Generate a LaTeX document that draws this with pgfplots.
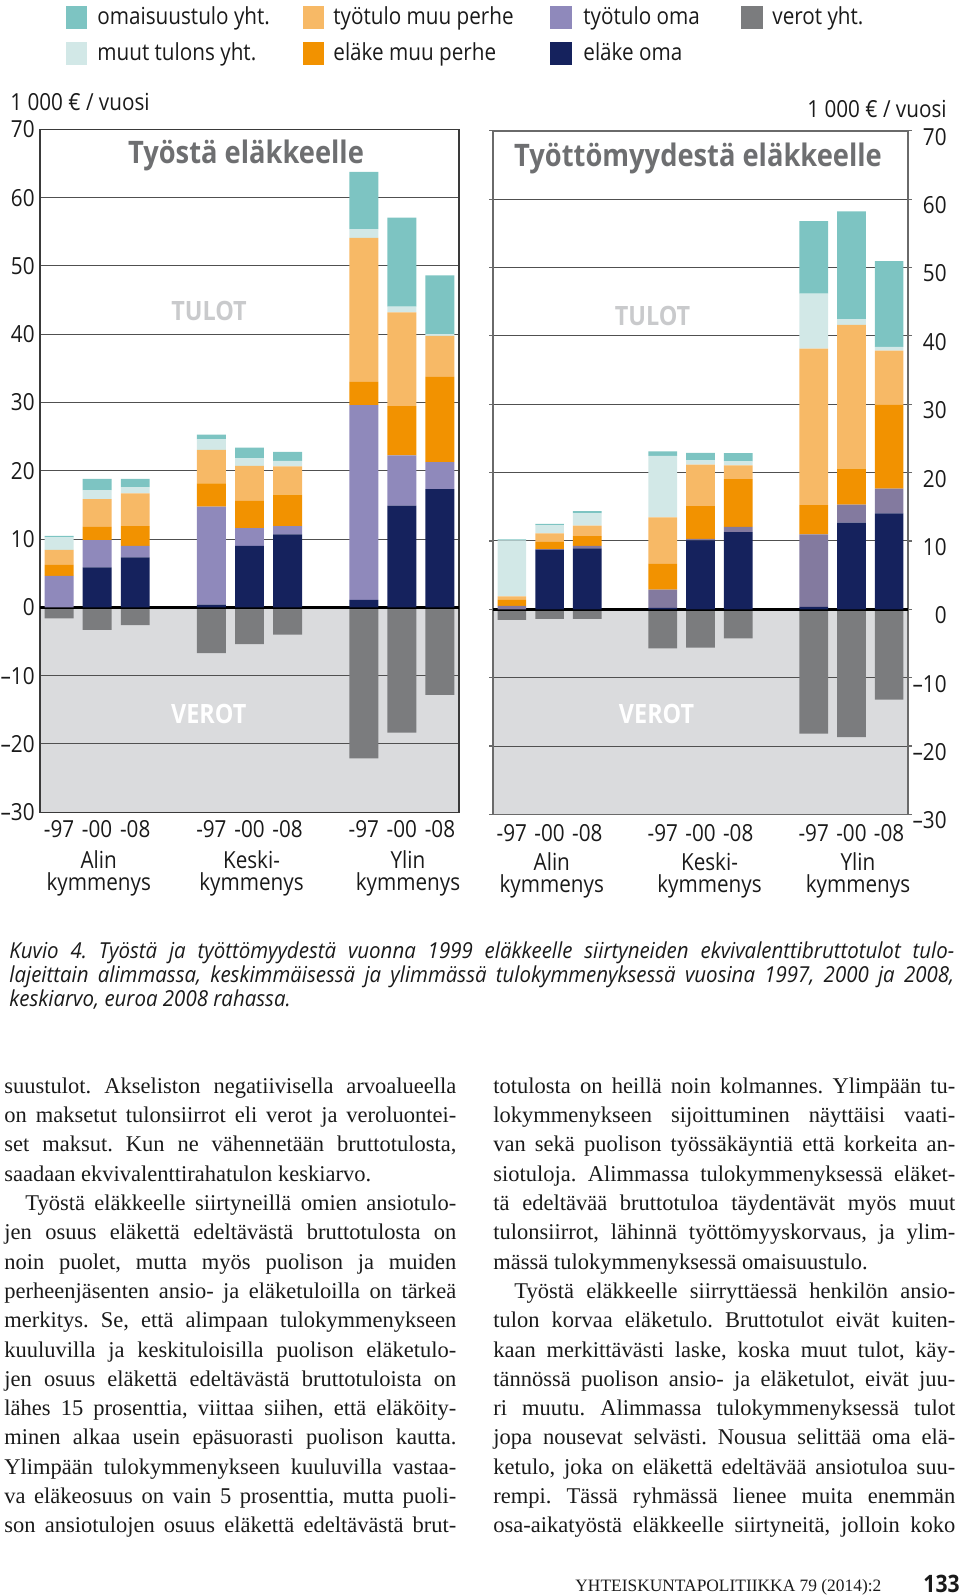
\documentclass[border=0pt]{standalone}
\usepackage{pgfplots}
\pgfplotsset{compat=1.18}
\usepackage{pgfplotstable}
\usepackage{fontspec}
\setmainfont{Liberation Serif}
\newfontfamily\ff[FakeStretch=0.88]{Open Sans}
\newfontfamily\capf[FakeStretch=0.93]{Open Sans}
\frenchspacing

\definecolor{cTeal}{HTML}{7DC4C2}
\definecolor{cLCyan}{HTML}{D2E8E7}
\definecolor{cLOr}{HTML}{F7B966}
\definecolor{cOr}{HTML}{F29200}
\definecolor{cPurL}{HTML}{8F89BB}
\definecolor{cPurR}{HTML}{837A9F}
\definecolor{cNavy}{HTML}{15225D}
\definecolor{cVer}{HTML}{7B7C7E}
\definecolor{cNeg}{HTML}{DADBDD}
\definecolor{cGrid}{HTML}{505050}
\definecolor{cFrameL}{HTML}{3A3A3A}
\definecolor{cFrameR}{HTML}{6A6A6A}
\definecolor{cTitle}{HTML}{6E6F71}
\definecolor{cTulot}{HTML}{C9CACC}
\definecolor{cText}{HTML}{1A1A1A}

% x: position, en: elake oma, to: tyotulo oma, em: elake muu perhe,
% tm: tyotulo muu perhe, mu: muut tulonsiirrot, om: omaisuustulo, ve: verot
\pgfplotstableread{
x  en    to     em    tm    mu    om    ve
0  0.0   4.6    1.6   2.2   1.85  0.2   -1.6
1  5.85  4.0    1.95  4.05  1.3   1.65  -3.3
2  7.3   1.7    2.9   4.8   0.9   1.2   -2.6
4  0.4   14.35  3.4   4.9   1.55  0.7   -6.7
5  9.0   2.6    4.0   5.1   1.1   1.6   -5.4
6  10.7  1.2    4.6   4.15  0.8   1.3   -4.0
8  1.1   28.5   3.4   21.1  1.3   8.35  -22.1
9  14.9  7.35   7.2   13.75 0.85  13.0  -18.35
10 17.3  3.95   12.5  6.0   0.25  8.6   -12.8
}\tabL

\pgfplotstableread{
x  en    to     em    tm    mu    om    ve
0  0.0   0.5    0.9   0.5   8.2   0.15  -1.55
1  8.7   0.1    1.05  1.25  1.2   0.2   -1.4
2  8.9   0.4    1.4   1.55  1.8   0.3   -1.4
4  0.2   2.7    3.75  6.8   9.0   0.65  -5.7
5  10.1  0.2    4.8   6.05  0.65  1.1   -5.6
6  11.3  0.75   7.0   2.0   0.6   1.2   -4.25
8  0.35  10.6   4.3   22.9  8.05  10.6  -18.2
9  12.7  2.6    5.3   21.0  0.85  15.75 -18.7
10 14.05 3.6    12.25 7.95  0.55  12.55 -13.2
}\tabR

\pgfplotsset{
  panel/.style={anchor=south west, scale only axis,
    xmin=-0.5, xmax=10.5, ymin=-30, ymax=70},
}
\tikzset{lbl/.style={font=\ff\fontsize{11.75}{12}\selectfont, text=cText}}
\newcommand\bodyf{\fontsize{11.25}{12}\selectfont}
\newcommand\JL[4]{\node[anchor=base west,inner sep=0pt,font=\bodyf,text=cText] at (#1,#2) {\makebox[#3][s]{#4}};}
\newcommand\RL[3]{\node[anchor=base west,inner sep=0pt,font=\bodyf,text=cText] at (#1,#2) {#3};}
\newcommand\mn{\textendash}

\begin{document}
\begin{tikzpicture}

% ---------- LEFT PANEL: negative background ----------
\begin{axis}[panel, at={(20pt,-406.1pt)}, width=209.5pt, height=341.45pt, hide axis]
\addplot[fill=cNeg, draw=none] coordinates {(-0.5,-30) (10.5,-30) (10.5,0) (-0.5,0)} -- cycle;
\end{axis}
% ---------- LEFT PANEL: grid, frame, ticks, taxes ----------
\begin{axis}[panel, at={(20pt,-406.1pt)}, width=209.5pt, height=341.45pt,
  axis line style={draw=cFrameL, line width=0.7pt},
  ymajorgrids, grid style={draw=cGrid, line width=0.5pt},
  ytick={-30,-20,...,70},
  yticklabels={\mn30,\mn20,\mn10,0,10,20,30,40,50,60,70},
  xtick={0,1,2,4,5,6,8,9,10},
  xticklabels={-97,-00,-08,-97,-00,-08,-97,-00,-08},
  major tick length=0pt,
  tick label style={lbl},
  yticklabel style={inner sep=0pt, xshift=-2.5pt},
  xticklabel style={inner sep=0pt, yshift=-4pt},
  ybar, bar width=0.76]
\addplot[fill=cVer, draw=none] table[x=x,y=ve]{\tabL};
\end{axis}
% ---------- LEFT PANEL: stacked incomes ----------
\begin{axis}[panel, at={(20pt,-406.1pt)}, width=209.5pt, height=341.45pt,
  hide axis, ybar stacked, bar width=0.76]
\addplot[fill=cNavy, draw=none] table[x=x,y=en]{\tabL};
\addplot[fill=cPurL, draw=none] table[x=x,y=to]{\tabL};
\addplot[fill=cOr, draw=none] table[x=x,y=em]{\tabL};
\addplot[fill=cLOr, draw=none] table[x=x,y=tm]{\tabL};
\addplot[fill=cLCyan, draw=none] table[x=x,y=mu]{\tabL};
\addplot[fill=cTeal, draw=none] table[x=x,y=om]{\tabL};
\draw[black, line width=1.4pt] (axis cs:-0.5,0) -- (axis cs:10.5,0);
\end{axis}

% ---------- RIGHT PANEL: negative background ----------
\begin{axis}[panel, at={(246.5pt,-407.2pt)}, width=207.5pt, height=341.8pt, hide axis]
\addplot[fill=cNeg, draw=none] coordinates {(-0.5,-30) (10.5,-30) (10.5,0) (-0.5,0)} -- cycle;
\end{axis}
% ---------- RIGHT PANEL: grid, frame, ticks, taxes ----------
\begin{axis}[panel, at={(246.5pt,-407.2pt)}, width=207.5pt, height=341.8pt,
  axis line style={draw=cFrameR, line width=0.7pt},
  ymajorgrids, grid style={draw=cGrid, line width=0.5pt},
  ytick={-30,-20,...,70},
  yticklabels={\mn30,\mn20,\mn10,0,10,20,30,40,50,60,70},
  yticklabel pos=right,
  xtick={0,1,2,4,5,6,8,9,10},
  xticklabels={-97,-00,-08,-97,-00,-08,-97,-00,-08},
  tick align=outside, major tick length=2pt,
  ytick style={draw=cFrameR, line width=0.6pt},
  xtick style={draw=none},
  tick label style={lbl},
  yticklabel style={anchor=east, inner sep=0pt, xshift=17.5pt, yshift=-3pt},
  xticklabel style={inner sep=0pt, yshift=-3pt},
  ybar, bar width=0.76]
\addplot[fill=cVer, draw=none] table[x=x,y=ve]{\tabR};
\end{axis}
% ---------- RIGHT PANEL: stacked incomes ----------
\begin{axis}[panel, at={(246.5pt,-407.2pt)}, width=207.5pt, height=341.8pt,
  hide axis, ybar stacked, bar width=0.76]
\addplot[fill=cNavy, draw=none] table[x=x,y=en]{\tabR};
\addplot[fill=cPurR, draw=none] table[x=x,y=to]{\tabR};
\addplot[fill=cOr, draw=none] table[x=x,y=em]{\tabR};
\addplot[fill=cLOr, draw=none] table[x=x,y=tm]{\tabR};
\addplot[fill=cLCyan, draw=none] table[x=x,y=mu]{\tabR};
\addplot[fill=cTeal, draw=none] table[x=x,y=om]{\tabR};
\draw[black, line width=1.4pt] (axis cs:-0.5,0) -- (axis cs:10.5,0);
\end{axis}

\begin{scope}[x=0.5pt,y=-0.5pt]
% legend
\tikzset{lg/.style={anchor=base west, inner sep=0pt, font=\ff\fontsize{11.75}{12}\selectfont, text=cText}}
\fill[cTeal]  (66,6) rectangle (87,28.5);   \node[lg] at (97,24.5) {omaisuustulo yht.};
\fill[cLCyan] (66,42) rectangle (87,64.5);  \node[lg] at (97,60) {muut tulons yht.};
\fill[cLOr]   (303,6) rectangle (324,28.5); \node[lg] at (333,24.5) {työtulo muu perhe};
\fill[cOr]    (303,42) rectangle (324,64.5);\node[lg] at (333,60) {eläke muu perhe};
\fill[cPurL]  (550,6) rectangle (572,28.5); \node[lg] at (583,24.5) {työtulo oma};
\fill[cNavy]  (550,42) rectangle (572,64.5);\node[lg] at (583,60) {eläke oma};
\fill[cVer]   (741,6) rectangle (763,28.5); \node[lg] at (772,24.5) {verot yht.};

% units
\node[anchor=base west, inner sep=0pt, font=\ff\fontsize{11.75}{12}\selectfont, text=cText] at (10,110.5) {1 000 € / vuosi};
\node[anchor=base east, inner sep=0pt, font=\ff\fontsize{11.75}{12}\selectfont, text=cText] at (947,117.5) {1 000 € / vuosi};

% panel titles
\node[anchor=base, inner sep=0pt, font=\ff\bfseries\fontsize{15.5}{16}\selectfont, text=cTitle] at (246,163) {Työstä eläkkeelle};
\node[anchor=base, inner sep=0pt, font=\ff\bfseries\fontsize{15.5}{16}\selectfont, text=cTitle] at (698,166) {Työttömyydestä eläkkeelle};
\node[inner sep=0pt, font=\ff\bfseries\fontsize{13.3}{14}\selectfont, text=cTulot] at (209,311) {TULOT};
\node[inner sep=0pt, font=\ff\bfseries\fontsize{13.3}{14}\selectfont, text=cTulot] at (652.5,316) {TULOT};
\node[inner sep=0pt, font=\ff\bfseries\fontsize{13.3}{14}\selectfont, text=white] at (208.7,713.6) {VEROT};
\node[inner sep=0pt, font=\ff\bfseries\fontsize{13.3}{14}\selectfont, text=white] at (656.6,713.6) {VEROT};

% group labels (anchor = baseline of the last line)
\tikzset{gl/.style={anchor=base, inner sep=0pt, align=center, font=\ff\fontsize{11.75}{10.9}\selectfont, text=cText}}
\node[gl] at (98.7,890) {Alin\\kymmenys};
\node[gl] at (251.5,890) {Keski-\\kymmenys};
\node[gl] at (408,890) {Ylin\\kymmenys};
\node[gl] at (551.8,892) {Alin\\kymmenys};
\node[gl] at (709.5,892) {Keski-\\kymmenys};
\node[gl] at (858,892) {Ylin\\kymmenys};

% caption
\node[anchor=north west, inner sep=0pt, text width=472.5pt, align=justify,
      font=\capf\itshape\fontsize{11}{12.2}\selectfont, text=cText] at (9,941)
 {\tolerance=10000 Kuvio 4. Työstä ja työttömyydestä vuonna 1999 eläkkeelle siirtyneiden ekvivalenttibruttotulot tulo-\linebreak lajeittain alimmassa, keskimmäisessä ja ylimmässä tulokymmenyksessä vuosina 1997, 2000 ja 2008,\linebreak keskiarvo, euroa 2008 rahassa.};

% body text, left column
\JL{4}{1093.3}{226pt}{suustulot. Akseliston negatiivisella arvoalueella}
\JL{4}{1122.6}{226pt}{on maksetut tulonsiirrot eli verot ja veroluontei-}
\JL{4}{1151.9}{226pt}{set maksut. Kun ne vähennetään bruttotulosta,}
\RL{4}{1181.2}{saadaan ekvivalenttirahatulon keskiarvo.}
\JL{25}{1210.5}{215.5pt}{Työstä eläkkeelle siirtyneillä omien ansiotulo-}
\JL{4}{1239.8}{226pt}{jen osuus eläkettä edeltävästä bruttotulosta on}
\JL{4}{1269.1}{226pt}{noin puolet, mutta myös puolison ja muiden}
\JL{4}{1298.4}{226pt}{perheenjäsenten ansio- ja eläketuloilla on tärkeä}
\JL{4}{1327.7}{226pt}{merkitys. Se, että alimpaan tulokymmenykseen}
\JL{4}{1357.0}{226pt}{kuuluvilla ja keskituloisilla puolison eläketulo-}
\JL{4}{1386.3}{226pt}{jen osuus eläkettä edeltävästä bruttotuloista on}
\JL{4}{1415.6}{226pt}{lähes 15 prosenttia, viittaa siihen, että eläköity-}
\JL{4}{1444.9}{226pt}{minen alkaa usein epäsuorasti puolison kautta.}
\JL{4}{1474.2}{226pt}{Ylimpään tulokymmenykseen kuuluvilla vastaa-}
\JL{4}{1503.5}{226pt}{va eläkeosuus on vain 5 prosenttia, mutta puoli-}
\JL{4}{1532.8}{226pt}{son ansiotulojen osuus eläkettä edeltävästä brut-}

% body text, right column
\JL{493}{1093.3}{231pt}{totulosta on heillä noin kolmannes. Ylimpään tu-}
\JL{493}{1122.6}{231pt}{lokymmenykseen sijoittuminen näyttäisi vaati-}
\JL{493}{1151.9}{231pt}{van sekä puolison työssäkäyntiä että korkeita an-}
\JL{493}{1181.2}{231pt}{siotuloja. Alimmassa tulokymmenyksessä eläket-}
\JL{493}{1210.5}{231pt}{tä edeltävää bruttotuloa täydentävät myös muut}
\JL{493}{1239.8}{231pt}{tulonsiirrot, lähinnä työttömyyskorvaus, ja ylim-}
\RL{493}{1269.1}{mässä tulokymmenyksessä omaisuustulo.}
\JL{514}{1298.4}{220.5pt}{Työstä eläkkeelle siirryttäessä henkilön ansio-}
\JL{493}{1327.7}{231pt}{tulon korvaa eläketulo. Bruttotulot eivät kuiten-}
\JL{493}{1357.0}{231pt}{kaan merkittävästi laske, koska muut tulot, käy-}
\JL{493}{1386.3}{231pt}{tännössä puolison ansio- ja eläketulot, eivät juu-}
\JL{493}{1415.6}{231pt}{ri muutu. Alimmassa tulokymmenyksessä tulot}
\JL{493}{1444.9}{231pt}{jopa nousevat selvästi. Nousua selittää oma elä-}
\JL{493}{1474.2}{231pt}{ketulo, joka on eläkettä edeltävää ansiotuloa suu-}
\JL{493}{1503.5}{231pt}{rempi. Tässä ryhmässä lienee muita enemmän}
\JL{493}{1532.8}{231pt}{osa-aikatyöstä eläkkeelle siirtyneitä, jolloin koko}

% footer
\node[anchor=base west, inner sep=0pt, font=\fontsize{8.7}{9}\selectfont, text=cText] at (575,1591) {YHTEISKUNTAPOLITIIKKA 79 (2014):2};
\node[anchor=base east, inner sep=0pt, font=\ff\bfseries\fontsize{12}{12}\selectfont, text=cText] at (960,1592) {133};

\pgfresetboundingbox
\path[use as bounding box] (0,0) rectangle (960,1596);
\end{scope}
\end{tikzpicture}
\end{document}
